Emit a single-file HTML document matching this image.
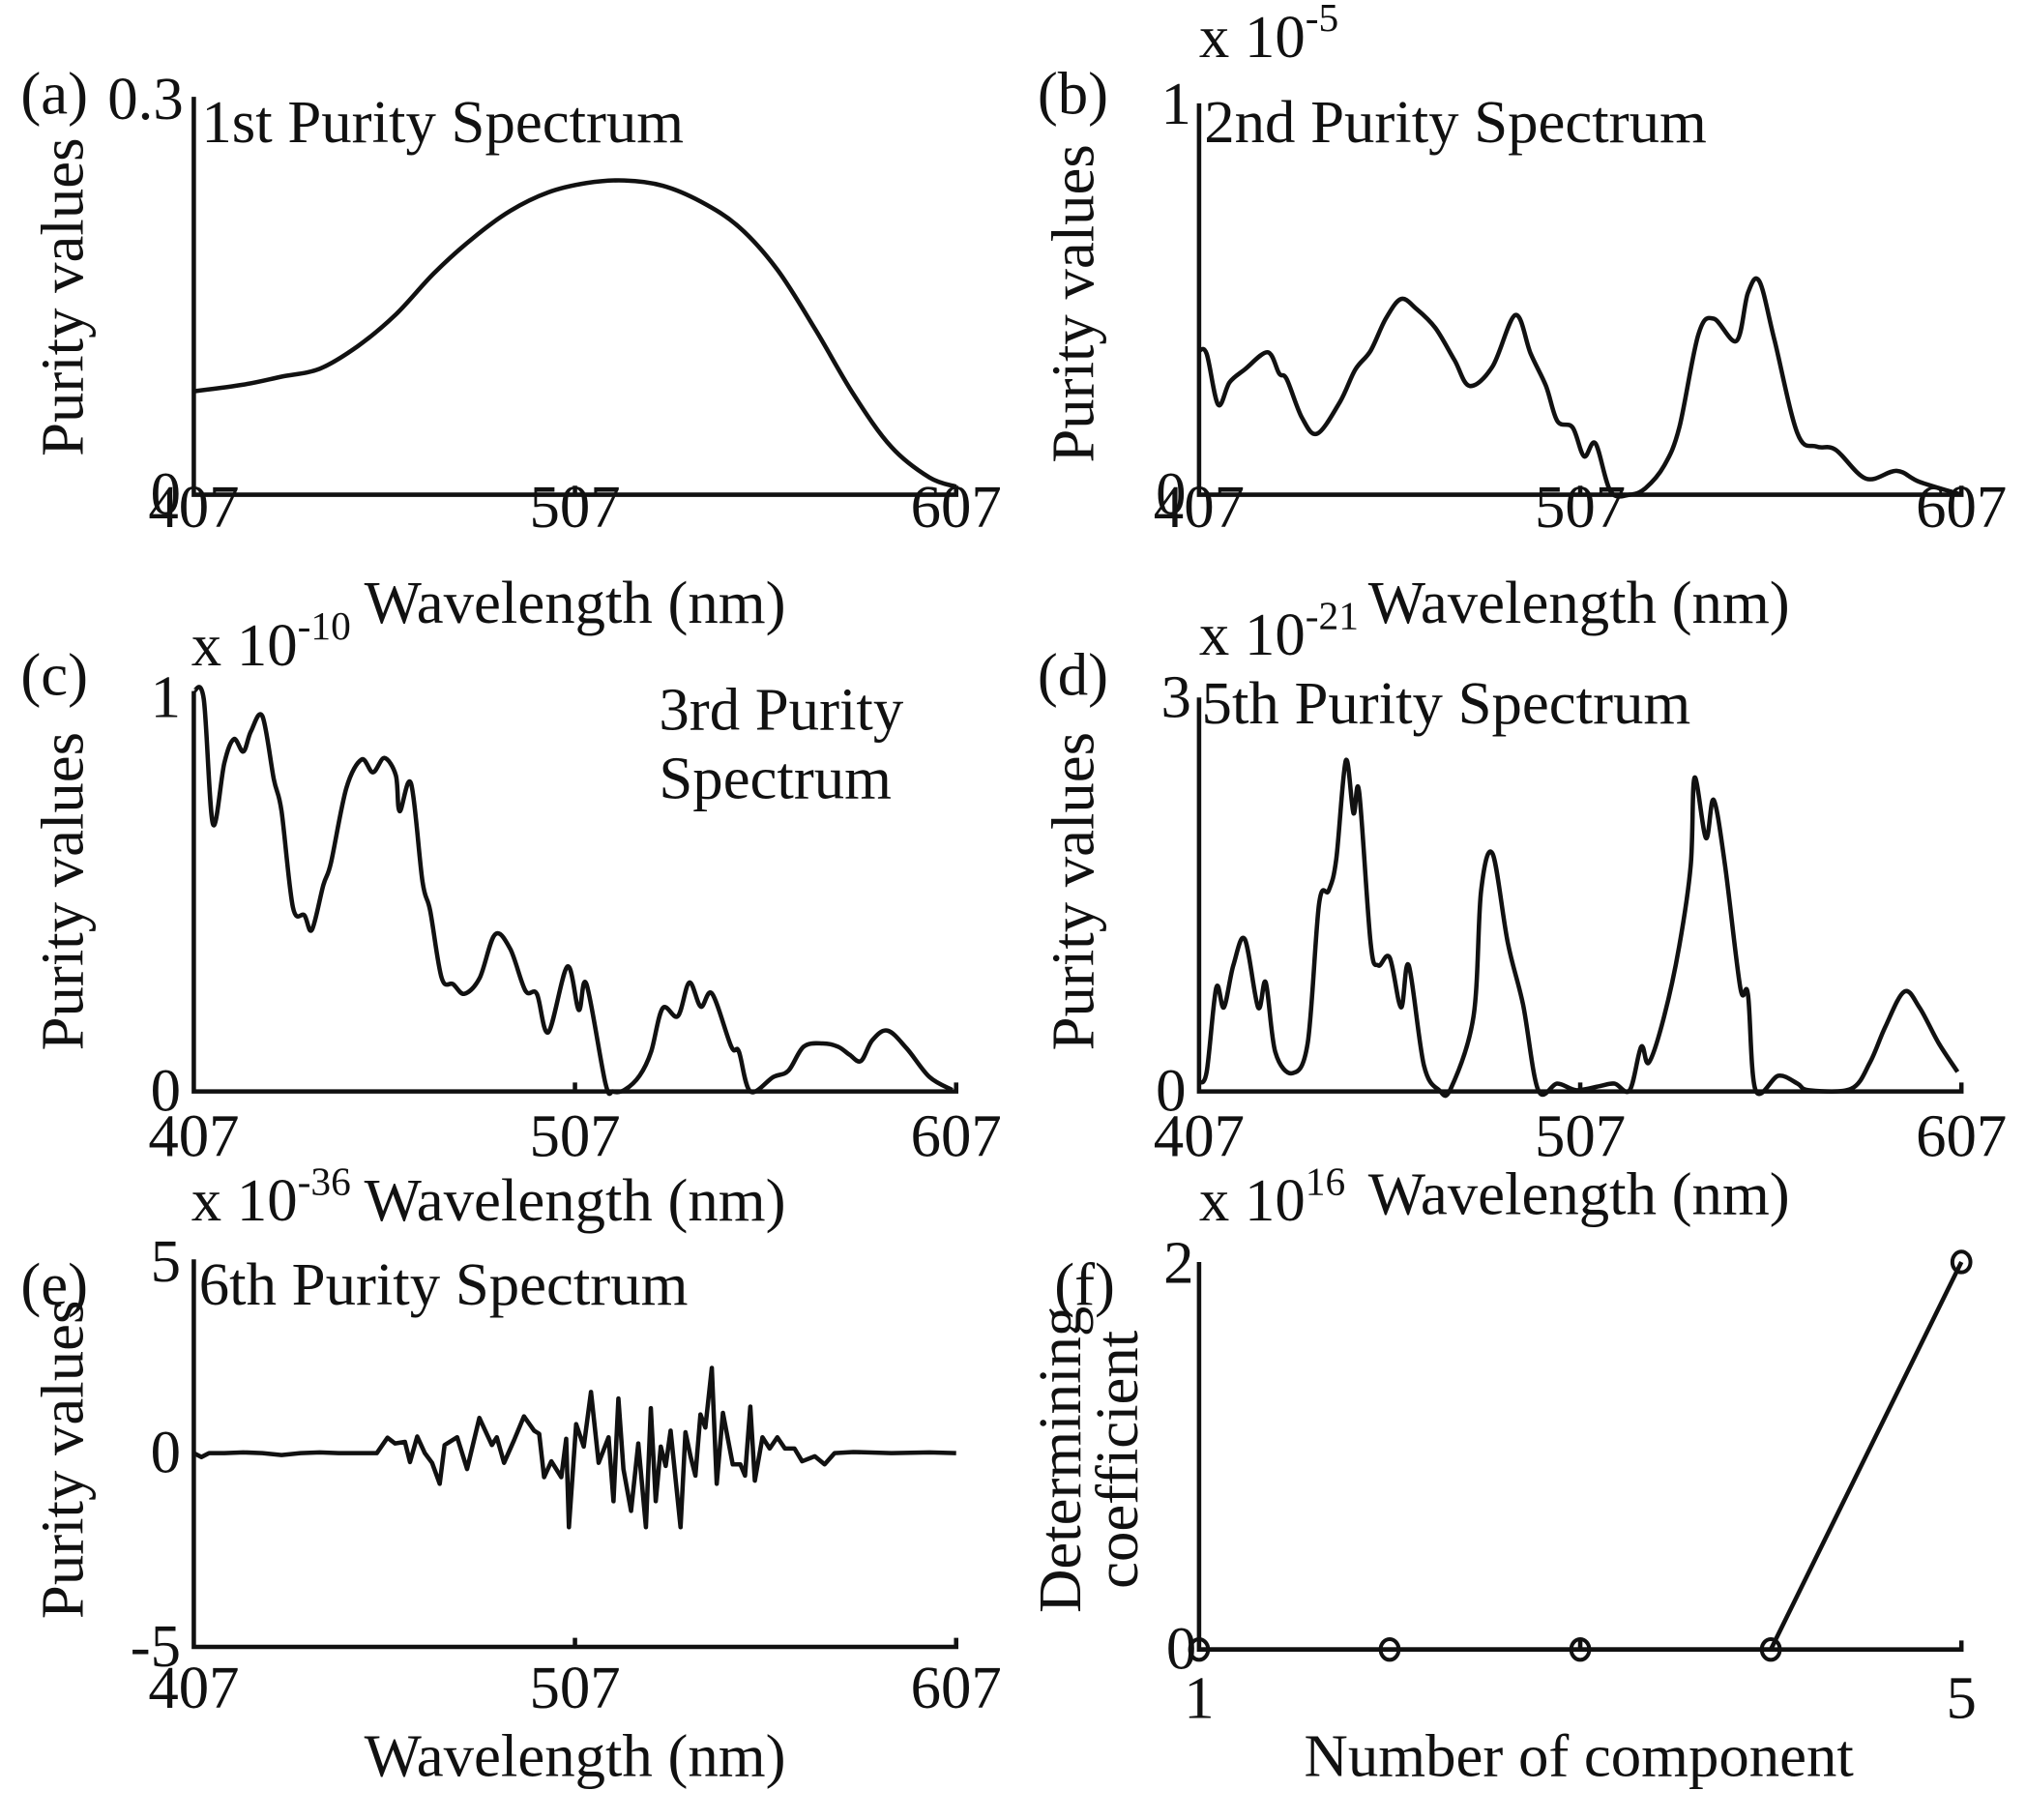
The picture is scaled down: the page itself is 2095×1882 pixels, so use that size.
<!DOCTYPE html>
<html><head><meta charset="utf-8"><style>
html,body{margin:0;padding:0;background:#fff;}
svg{display:block;font-family:"Liberation Serif",serif;}
text{fill:#111;font-size:47px;}
</style></head><body>
<svg id="fig" width="2095" height="1882" viewBox="0 0 1568 1409" preserveAspectRatio="none" xmlns="http://www.w3.org/2000/svg">
<g id="static" stroke="none">
<text x="16" y="88">(a)</text>
<text x="142" y="92" text-anchor="end">0.3</text>
<text x="140" y="398" text-anchor="end">0</text>
<text x="156" y="110">1st Purity Spectrum</text>
<text transform="translate(64,230) rotate(-90)" text-anchor="middle">Purity values</text>
<text x="445" y="482" text-anchor="middle">Wavelength (nm)</text>
<text x="803" y="88">(b)</text>
<text x="922" y="96" text-anchor="end">1</text>
<text x="918" y="398" text-anchor="end">0</text>
<text x="928" y="44">x 10<tspan dy="-20" font-size="31">-5</tspan></text>
<text x="932" y="110">2nd Purity Spectrum</text>
<text transform="translate(846,235) rotate(-90)" text-anchor="middle">Purity values</text>
<text x="1222" y="482" text-anchor="middle">Wavelength (nm)</text>
<text x="16" y="538">(c)</text>
<text x="148" y="515">x 10<tspan dy="-20" font-size="31">-10</tspan></text>
<text x="140" y="555" text-anchor="end">1</text>
<text x="140" y="860" text-anchor="end">0</text>
<text x="510" y="565">3rd Purity</text>
<text x="510" y="618">Spectrum</text>
<text transform="translate(64,690) rotate(-90)" text-anchor="middle">Purity values</text>
<text x="445" y="945" text-anchor="middle">Wavelength (nm)</text>
<text x="803" y="538">(d)</text>
<text x="928" y="507">x 10<tspan dy="-20" font-size="31">-21</tspan></text>
<text x="922" y="555" text-anchor="end">3</text>
<text x="918" y="860" text-anchor="end">0</text>
<text x="930" y="560">5th Purity Spectrum</text>
<text transform="translate(846,690) rotate(-90)" text-anchor="middle">Purity values</text>
<text x="1222" y="940" text-anchor="middle">Wavelength (nm)</text>
<text x="16" y="1010">(e)</text>
<text x="148" y="945">x 10<tspan dy="-20" font-size="31">-36</tspan></text>
<text x="140" y="992" text-anchor="end">5</text>
<text x="140" y="1140" text-anchor="end">0</text>
<text x="140" y="1290" text-anchor="end">-5</text>
<text x="154" y="1010">6th Purity Spectrum</text>
<text transform="translate(64,1130) rotate(-90)" text-anchor="middle">Purity values</text>
<text x="445" y="1375" text-anchor="middle">Wavelength (nm)</text>
<text x="816" y="1010">(f)</text>
<text x="928" y="945">x 10<tspan dy="-20" font-size="31">16</tspan></text>
<text x="924" y="993" text-anchor="end">2</text>
<text x="926" y="1292" text-anchor="end">0</text>
<text x="928" y="1330" text-anchor="middle">1</text>
<text x="1518" y="1330" text-anchor="middle">5</text>
<text x="1222" y="1375" text-anchor="middle">Number of component</text>
<text transform="translate(836,1130) rotate(-90)" text-anchor="middle">Determining</text>
<text transform="translate(880,1130) rotate(-90)" text-anchor="middle">coefficient</text>
</g>
<g id="plots"></g>
</svg>
<script>
const aWl = [407,420,430,440,450,460,470,480,490,500,510,520,530,540,550,560,570,580,590,600,607];
const aVal = [.078,.083,.089,.095,.112,.136,.167,.193,.214,.228,.235,.237,.233,.221,.202,.170,.125,.076,.036,.013,.006];

const bWl = [407,409,412,415,419,425,428,430,434,438,444,448,452,456,460,464,469,474,478,484,490,494,498,501,505,508,511,515,520,524,529,533,538,542,548,551,554,558,564,569,574,582,590,596,607];
const bVal = [.368,.36,.23,.287,.32,.364,.31,.295,.197,.156,.238,.32,.368,.45,.50,.475,.426,.344,.278,.328,.459,.36,.278,.188,.172,.098,.131,.008,0,.016,.074,.172,.41,.45,.393,.516,.545,.393,.156,.123,.115,.041,.061,.033,0];

const cWl = [407,409.6,412,415,417.5,420,422,425,428,430,433,436,438,441,443,447,451,454,457,460,461,464,467,469,472,475,478,482,486,490,494,497,500,505,508,510,515,517,520,524,527,530,534,537,540,543,548,550,553,559,563,567,572,576,579,582,585,589,594,600,606];
const cVal = [1.0,.98,.668,.82,.88,.849,.9,.937,.78,.70,.46,.44,.404,.516,.572,.757,.829,.797,.833,.789,.70,.769,.524,.452,.284,.268,.244,.284,.392,.356,.252,.244,.148,.312,.204,.268,.02,0,.004,.04,.10,.208,.188,.272,.212,.244,.112,.10,0,.036,.052,.112,.12,.112,.092,.076,.128,.152,.108,.036,.004];

const dWl = [407,409,411.5,413.5,416,419,422.5,424.5,427,431.5,435.5,438.5,441,443,445.5,447.5,449,452,454,457,460,462,466,470,473,479,481,484,488,492,496,501,506,512,516,520,523,525,529,533,536,537,540,542,545,549,551,553,559,564,567,578,583,587,592,596,601,606];
const dVal = [.07,.15,.79,.64,.96,1.16,.64,.83,.30,.14,.37,1.43,1.53,1.77,2.52,2.12,2.28,1.13,.96,1.02,.64,.96,.20,.01,.02,.57,1.53,1.81,1.13,.66,.01,.06,.01,.04,.06,.01,.34,.22,.57,1.11,1.72,2.39,1.93,2.22,1.72,.79,.74,.01,.12,.06,.01,.02,.22,.49,.76,.64,.37,.15];

const eWl = [407,409,411,415,420,425,430,435,440,445,450,455,457.8,459.8,462.4,463.7,465.6,467.6,469.5,471.5,472.8,476.1,478.7,481.9,485.2,486.5,488.4,491,493.6,496.3,497.6,498.9,500.8,503.4,504.7,505.4,507.3,509.3,511.2,513.2,515.8,517.1,518.4,519.7,521.7,523.6,525.6,526.9,528.2,529.5,530.8,532.1,534.7,536,537.3,538.6,539.9,541.2,542.9,544.2,545.8,548.4,550.4,551.6,553,554.2,556.2,558.1,560.1,562.1,564.6,566.6,569.9,572.5,575.1,580,590,600,607];
const eVal = [0,-.1,0,0,.02,0,-.05,0,.02,0,0,0,.40,.25,.29,-.23,.43,0,-.25,-.79,.21,.41,-.41,.91,.21,.41,-.25,.33,.95,.58,.50,-.62,-.21,-.62,.37,-1.91,.75,.17,1.58,-.25,.41,-1.24,1.41,-.41,-1.49,.25,-1.91,1.16,-1.24,.17,-.33,.58,-1.91,.54,-.08,-.58,1.0,.66,2.2,-.79,1.04,-.29,-.29,-.58,1.20,-.71,.41,.12,.41,.12,.12,-.21,-.08,-.29,0,.03,0,.02,0];

const fX = [1,2,3,4,5];
const fVal = [0,0,0,0,2];

const xTickWl = ['407','507','607'];

const NS='http://www.w3.org/2000/svg';
const plots=document.getElementById('plots');
function mk(tag,attrs){const e=document.createElementNS(NS,tag);for(const k in attrs)e.setAttribute(k,attrs[k]);plots.appendChild(e);return e;}
function scale(d0,d1,r0,r1){return v=>r0+(v-d0)/(d1-d0)*(r1-r0);}

function panel(id,x0,x1,yb,yt,ymin,ymax,xs,ys,xd0,xd1,ticks,tickBase,smooth){
  const sx=scale(xd0,xd1,x0,x1), sy=scale(ymin,ymax,yb,yt);
  const ax=mk('path',{d:`M${x0},${yt} L${x0},${yb} L${x1},${yb} L${x1},${yb-7} M${(x0+x1)/2},${yb} L${(x0+x1)/2},${yb-7}`,fill:'none',stroke:'#111','stroke-width':3.4});
  
  
  if(ticks){
    ticks.forEach((t,i)=>{
      const tx=mk('text',{x:x0+(x1-x0)*i/(ticks.length-1),y:tickBase,'text-anchor':'middle'});
      tx.textContent=t;
      
      
    });
  }
  const P=xs.map((x,i)=>[sx(x),sy(ys[i])]);
  let d='M'+P[0][0].toFixed(1)+','+P[0][1].toFixed(1);
  for(let i=1;i<P.length;i++){
    if(smooth){
      const p0=P[Math.max(0,i-2)],p1=P[i-1],p2=P[i],p3=P[Math.min(P.length-1,i+1)];
      const c1=[p1[0]+(p2[0]-p0[0])/6,p1[1]+(p2[1]-p0[1])/6];
      const c2=[p2[0]-(p3[0]-p1[0])/6,p2[1]-(p3[1]-p1[1])/6];
      d+=`C${c1[0].toFixed(1)},${c1[1].toFixed(1)} ${c2[0].toFixed(1)},${c2[1].toFixed(1)} ${p2[0].toFixed(1)},${p2[1].toFixed(1)}`;
    } else d+='L'+P[i][0].toFixed(1)+','+P[i][1].toFixed(1);
  }
  const ln=mk('path',{d:d,fill:'none',stroke:'#111','stroke-width':3.4,'stroke-linejoin':'round'});
  
  
  return {sx,sy};
}

panel('panel-a',150,740,383,75,0,0.3,aWl,aVal,407,607,xTickWl,408,true);
panel('panel-b',928,1518,383,80,0,1,bWl,bVal,407,607,xTickWl,408,true);
panel('panel-c',150,740,845,535,0,1,cWl,cVal,407,607,xTickWl,895,true);
panel('panel-d',928,1518,845,540,0,3,dWl,dVal,407,607,xTickWl,895,true);
panel('panel-e',150,740,1275,975,-5,5,eWl,eVal,407,607,xTickWl,1322,false);
const f=panel('panel-f',928,1518,1277,977,0,2,fX,fVal,1,5,null,0,false);
fX.forEach((x,i)=>{
  const c=mk('ellipse',{cx:f.sx(x),cy:f.sy(fVal[i]),rx:7,ry:8,fill:'none',stroke:'#111','stroke-width':3});
  
  
});
</script>
</body></html>
